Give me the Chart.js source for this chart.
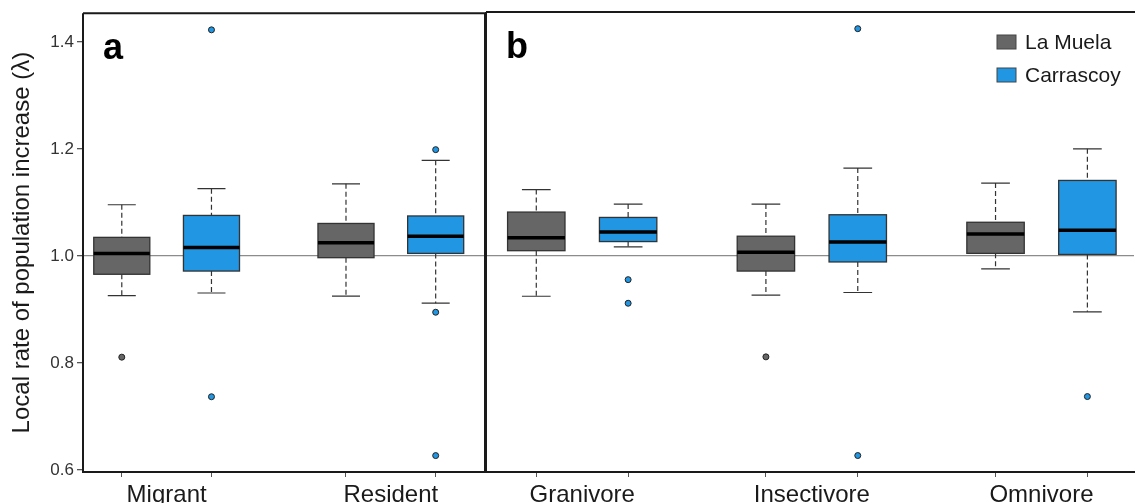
<!DOCTYPE html>
<html>
<head>
<meta charset="utf-8">
<script src="https://cdn.jsdelivr.net/npm/chart.js@4.4.1/dist/chart.umd.min.js"></script>
<style>
  html, body { margin: 0; padding: 0; background: #fff; }
  #wrap { position: relative; width: 1138px; height: 503px; overflow: hidden; }
  #left { position: absolute; left: 0; top: 0; }
  #right { position: absolute; left: 481px; top: 0; }
</style>
</head>
<body>
<div id="wrap">
  <canvas id="left" width="490" height="503"></canvas>
  <canvas id="right" width="658" height="503"></canvas>
</div>
<script>
// categories
const groupsA = ['Migrant', 'Resident'];
const groupsB = ['Granivore', 'Insectivore', 'Omnivore'];
const seriesNames = ['La Muela', 'Carrascoy'];
const yTicks = [0.6, 0.8, 1.0, 1.2, 1.4];

// box stats per group: [lower whisker, Q1, median, Q3, upper whisker]
const muelaA = [[0.926, 0.966, 1.005, 1.035, 1.096], [0.925, 0.997, 1.025, 1.061, 1.135]];
const carrascoyA = [[0.931, 0.972, 1.016, 1.076, 1.126], [0.912, 1.005, 1.037, 1.075, 1.179]];
const muelaB = [[0.924, 1.009, 1.033, 1.081, 1.123], [0.926, 0.971, 1.006, 1.036, 1.096], [0.975, 1.004, 1.040, 1.062, 1.135]];
const carrascoyB = [[1.016, 1.026, 1.044, 1.071, 1.096], [0.931, 0.988, 1.025, 1.076, 1.163], [0.895, 1.002, 1.047, 1.140, 1.199]];

// outliers per group
const muelaOutA = [[0.811], []];
const carrascoyOutA = [[1.423, 0.737], [1.199, 0.895, 0.627]];
const muelaOutB = [[], [0.811], []];
const carrascoyOutB = [[0.955, 0.911], [1.423, 0.627], [0.737]];

const colors = ['#666666', '#2196e3'];
const FONT = "'Liberation Sans', Arial, sans-serif";
const DODGE = 0.2;
const BOX_W = 0.25;

function outlierPoints(outs, dodge) {
  return outs.flatMap((vals, i) => vals.map(v => ({ x: i + 1 + dodge, y: v })));
}

function makeDatasets(stats, outs) {
  return stats.map((s, k) => ({
    label: seriesNames[k],
    stats: s,
    dodge: k === 0 ? -DODGE : DODGE,
    data: outlierPoints(outs[k], k === 0 ? -DODGE : DODGE),
    backgroundColor: colors[k],
    borderColor: '#222',
    borderWidth: 1,
    pointRadius: 3,
  }));
}

// draws the boxes and whiskers from the stats, through the chart scales
const boxPlugin = {
  id: 'boxes',
  beforeDatasetsDraw(chart) {
    const { ctx, scales: { x, y } } = chart;
    ctx.save();
    chart.data.datasets.forEach(ds => {
      ds.stats.forEach((s, i) => {
        const pos = i + 1 + ds.dodge;
        const c = x.getPixelForValue(pos);
        const l = x.getPixelForValue(pos - BOX_W / 2);
        const r = x.getPixelForValue(pos + BOX_W / 2);
        const capL = x.getPixelForValue(pos - BOX_W / 4);
        const capR = x.getPixelForValue(pos + BOX_W / 4);
        const [lo, q1, med, q3, hi] = s.map(v => y.getPixelForValue(v));

        ctx.strokeStyle = '#333';
        ctx.lineWidth = 1.2;
        ctx.setLineDash([5, 3]);
        ctx.beginPath();
        ctx.moveTo(c, hi); ctx.lineTo(c, q3);
        ctx.moveTo(c, q1); ctx.lineTo(c, lo);
        ctx.stroke();
        ctx.setLineDash([]);
        ctx.beginPath();
        ctx.moveTo(capL, hi); ctx.lineTo(capR, hi);
        ctx.moveTo(capL, lo); ctx.lineTo(capR, lo);
        ctx.stroke();

        ctx.fillStyle = ds.backgroundColor;
        ctx.fillRect(l, q3, r - l, q1 - q3);
        ctx.strokeStyle = '#333';
        ctx.lineWidth = 1.3;
        ctx.strokeRect(l, q3, r - l, q1 - q3);

        ctx.strokeStyle = '#000';
        ctx.lineWidth = 3.5;
        ctx.beginPath();
        ctx.moveTo(l, med); ctx.lineTo(r, med);
        ctx.stroke();
      });
    });
    ctx.restore();
  }
};

// panel frame, panel letter and legend
const framePlugin = {
  id: 'frame',
  afterDraw(chart, args, opts) {
    const { ctx, chartArea: a } = chart;
    ctx.save();
    ctx.strokeStyle = '#1a1a1a';
    ctx.lineWidth = 2;
    ctx.beginPath();
    ctx.moveTo(a.left, a.top); ctx.lineTo(a.right + 1, a.top);
    ctx.moveTo(a.left, a.top); ctx.lineTo(a.left, a.bottom);
    ctx.moveTo(a.left - 1, a.bottom); ctx.lineTo(a.right + 1, a.bottom);
    if (opts.rightEdge) { ctx.moveTo(a.right, a.top); ctx.lineTo(a.right, a.bottom); }
    ctx.stroke();

    ctx.fillStyle = '#000';
    ctx.font = 'bold 36px ' + FONT;
    ctx.textBaseline = 'alphabetic';
    ctx.fillText(opts.letter, a.left + 20, a.top + 46);

    if (opts.legend) {
      const x0 = a.right - 137;
      ctx.font = '21px ' + FONT;
      ctx.textBaseline = 'middle';
      chart.data.datasets.forEach((ds, k) => {
        const yc = a.top + 30 + k * 33;
        ctx.fillStyle = ds.backgroundColor;
        ctx.fillRect(x0, yc - 7, 19, 14);
        ctx.strokeStyle = '#444';
        ctx.lineWidth = 1;
        ctx.strokeRect(x0, yc - 7, 19, 14);
        ctx.fillStyle = '#1a1a1a';
        ctx.fillText(ds.label, x0 + 28, yc + 1);
      });
    }
    ctx.restore();
  }
};

function isWhole(v) { return Math.abs(v - Math.round(v)) < 1e-6; }

function makeChart(canvasId, groups, stats, outs, xMin, xMax, opts) {
  const xTicks = groups.flatMap((g, i) => [i + 1 - DODGE, i + 1, i + 1 + DODGE]);
  return new Chart(document.getElementById(canvasId).getContext('2d'), {
    type: 'scatter',
    data: { datasets: makeDatasets(stats, outs) },
    plugins: [boxPlugin, framePlugin],
    options: {
      responsive: false,
      animation: false,
      events: [],
      layout: { padding: opts.padding },
      plugins: {
        legend: { display: false },
        tooltip: { enabled: false },
        frame: { letter: opts.letter, legend: opts.legend, rightEdge: opts.rightEdge },
      },
      scales: {
        x: {
          type: 'linear',
          min: xMin,
          max: xMax,
          afterBuildTicks: s => { s.ticks = xTicks.map(v => ({ value: v })); },
          afterFit: s => { s.height = 31; },
          border: { display: false },
          grid: {
            drawOnChartArea: false,
            tickLength: 5,
            tickWidth: 1,
            tickColor: c => (c.tick && isWhole(c.tick.value)) ? 'rgba(0,0,0,0)' : '#555',
          },
          ticks: {
            autoSkip: false,
            maxRotation: 0,
            padding: 4,
            color: '#1a1a1a',
            font: { family: FONT, size: 24 },
            callback: v => isWhole(v) ? groups[Math.round(v) - 1] : '',
          },
        },
        y: {
          min: 0.5963,
          max: 1.4541,
          afterBuildTicks: s => { s.ticks = yTicks.map(v => ({ value: v })); },
          afterFit: s => { s.width = opts.showY ? 83 : 0; },
          border: { display: false },
          grid: {
            drawTicks: opts.showY,
            tickLength: 6,
            tickColor: '#555',
            lineWidth: 1.3,
            color: c => (c.tick && Math.abs(c.tick.value - 1) < 1e-6) ? '#8c8c8c' : 'rgba(0,0,0,0)',
          },
          ticks: {
            display: opts.showY,
            padding: 3,
            color: '#333',
            font: { family: FONT, size: 17 },
            callback: v => v.toFixed(1),
          },
          title: {
            display: opts.showY,
            text: 'Local rate of population increase (λ)',
            color: '#1a1a1a',
            font: { family: FONT, size: 24 },
            padding: { top: 8, bottom: 0 },
          },
        },
      },
    },
  });
}

makeChart('left', groupsA, [muelaA, carrascoyA], [muelaOutA, carrascoyOutA], 0.627, 2.42,
  { showY: true, letter: 'a', legend: false, rightEdge: true, padding: { top: 12, right: 2, left: 0, bottom: 0 } });
makeChart('right', groupsB, [muelaB, carrascoyB], [muelaOutB, carrascoyOutB], 0.581, 3.403,
  { showY: false, letter: 'b', legend: true, rightEdge: false, padding: { top: 12, right: 0, left: 1, bottom: 0 } });
</script>
</body>
</html>
